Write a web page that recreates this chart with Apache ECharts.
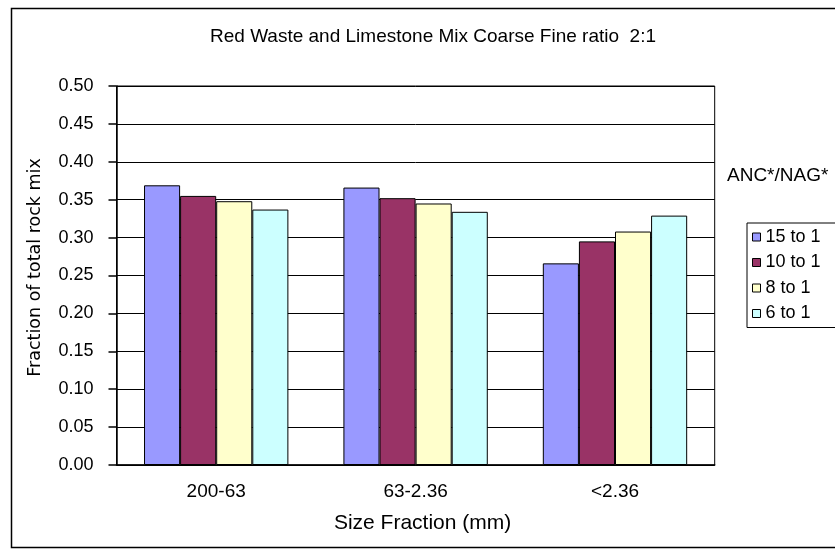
<!DOCTYPE html>
<html>
<head>
<meta charset="utf-8">
<script src="https://cdn.jsdelivr.net/npm/echarts@6/dist/echarts.min.js"></script>
<style>
  html, body { margin: 0; padding: 0; background: #fff; }
  #chart { width: 835px; height: 550px; }
</style>
</head>
<body>
<div id="chart"></div>
<script>
// size fractions on the x axis
const categories = ["200-63", "63-2.36", "<2.36"];
// ANC*/NAG* ratios (legend)
const ratioNames = ["15 to 1", "10 to 1", "8 to 1", "6 to 1"];
const ratio15 = [0.369, 0.366, 0.266];
const ratio10 = [0.355, 0.352, 0.295];
const ratio8 = [0.348, 0.345, 0.308];
const ratio6 = [0.337, 0.334, 0.329];
const colors = ["#9999FF", "#993366", "#FFFFCC", "#CCFFFF"];

const font = "Liberation Sans, Arial, sans-serif";
const chart = echarts.init(document.getElementById("chart"));

function bar(name, data, i) {
  return {
    name: name,
    type: "bar",
    data: data,
    barGap: "0%",
    barCategoryGap: "27.6%",
    itemStyle: { color: colors[i], borderColor: "#000", borderWidth: 1 },
  };
}

const option = {
  backgroundColor: "#fff",
  animation: false,
  title: {
    text: "Red Waste and Limestone Mix Coarse Fine ratio  2:1",
    left: 428,
    textAlign: "center",
    top: 22,
    textStyle: { fontFamily: font, fontSize: 19, fontWeight: "normal", color: "#000" },
  },
  graphic: [
    {
      type: "rect",
      shape: { x: 11.5, y: 8.5, width: 830, height: 539 },
      style: { fill: "none", stroke: "#000", lineWidth: 1.5 },
      silent: true,
    },
    {
      type: "text",
      left: 727,
      top: 166,
      style: { text: "ANC*/NAG*", font: "19px " + font, fill: "#000" },
    },
  ],
  legend: {
    data: ratioNames,
    orient: "vertical",
    left: 747,
    top: 223,
    padding: [5, 20, 5, 5],
    borderColor: "#000",
    borderWidth: 1,
    itemWidth: 8,
    itemHeight: 8,
    itemGap: 7.5,
    itemTextGap: 8,
    icon: "rect",
    itemStyle: { borderColor: "#000", borderWidth: 1 },
    textStyle: { fontFamily: font, fontSize: 18, lineHeight: 18, color: "#000" },
  },
  grid: {
    left: 116.5,
    right: 120.3,
    top: 86,
    bottom: 85,
    show: true,
    borderColor: "#000",
    borderWidth: 1,
  },
  xAxis: {
    type: "category",
    data: categories,
    name: "Size Fraction (mm)",
    nameLocation: "middle",
    nameGap: 48,
    nameTextStyle: { fontFamily: font, fontSize: 21, color: "#000", padding: [0, 0, 0, 14] },
    axisLine: { lineStyle: { color: "#000", width: 1.5 } },
    axisTick: { length: 6, lineStyle: { color: "#000", width: 1.5 } },
    axisLabel: { fontFamily: font, fontSize: 19, color: "#000", margin: 17 },
  },
  yAxis: {
    type: "value",
    min: 0,
    max: 0.5,
    interval: 0.05,
    name: "Fraction of total rock mix",
    nameLocation: "middle",
    nameGap: 72,
    nameTextStyle: {
      fontFamily: "DejaVu Sans, sans-serif",
      fontSize: 17.5,
      color: "#000",
      padding: [0, 0, 0, 16],
    },
    axisLine: { show: true, lineStyle: { color: "#000", width: 1.5 } },
    axisTick: { show: true, length: 8, lineStyle: { color: "#000", width: 1.5 } },
    axisLabel: {
      fontFamily: font,
      fontSize: 18,
      color: "#000",
      margin: 23,
      formatter: (v) => v.toFixed(2),
    },
    splitLine: { lineStyle: { color: "#000", width: 1 } },
  },
  series: [
    bar(ratioNames[0], ratio15, 0),
    bar(ratioNames[1], ratio10, 1),
    bar(ratioNames[2], ratio8, 2),
    bar(ratioNames[3], ratio6, 3),
  ],
};

chart.setOption(option);
</script>
</body>
</html>
